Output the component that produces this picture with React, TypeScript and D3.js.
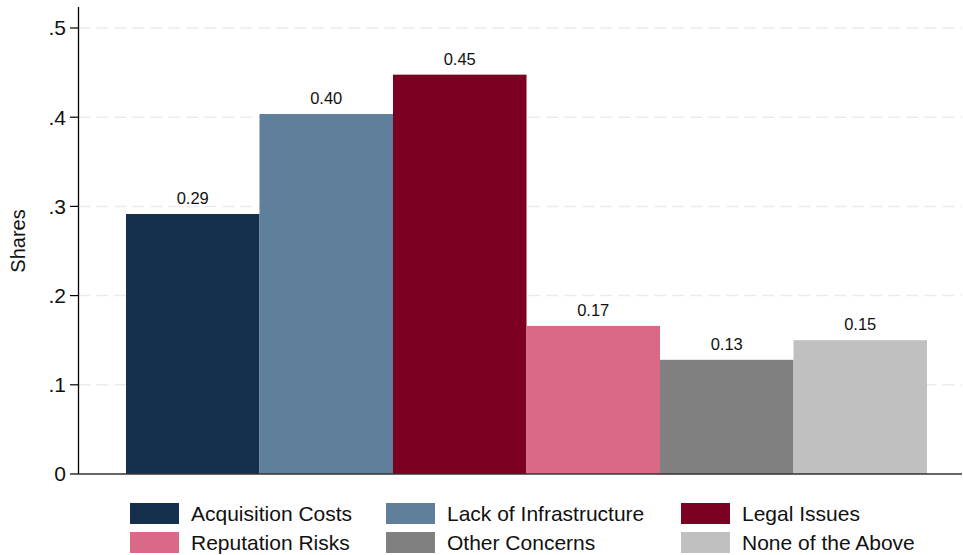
import React from "react";
import * as d3 from "d3";

const categories = ["Acquisition Costs", "Lack of Infrastructure", "Legal Issues", "Reputation Risks", "Other Concerns", "None of the Above"];
const values = [0.2915, 0.4036, 0.4477, 0.166, 0.128, 0.150];
const valueLabels = ["0.29", "0.40", "0.45", "0.17", "0.13", "0.15"];
const colors = ["#14304d", "#5f7f9b", "#7c0021", "#d96a87", "#808080", "#c0c0c0"];
const yTicks = [0, 0.1, 0.2, 0.3, 0.4, 0.5];
const yTickLabels = ["0", ".1", ".2", ".3", ".4", ".5"];

const W = 963, H = 555;
const axisX = 78.5;
const plotRight = 962;
const font = "Arial, 'Liberation Sans', sans-serif";

export default function App() {
  const y = d3.scaleLinear().domain([0, 0.5]).range([474, 28]);
  const x = d3.scaleBand<string>().domain(categories).range([126, 927]).padding(0);
  const legendCols = [130, 386, 681];
  const legendRows = [503, 532];
  return (
    <svg width={W} height={H} style={{ position: "absolute", left: 0, top: 0, background: "#fff" }} fontFamily={font}>
      {yTicks.filter(t => t > 0).map(t => (
        <line key={"g" + t} x1={axisX} x2={plotRight} y1={y(t)} y2={y(t)} stroke="#ebebeb" strokeWidth={1.5} strokeDasharray="12 6" />
      ))}
      {categories.map((c, i) => (
        <rect key={c} x={x(c)} y={y(values[i])} width={x.bandwidth()} height={y(0) - y(values[i])} fill={colors[i]} />
      ))}
      {categories.map((c, i) => (
        <text key={"l" + c} x={(x(c) as number) + x.bandwidth() / 2} y={y(values[i]) - 10} textAnchor="middle" fontSize={16.5} fill="#111">{valueLabels[i]}</text>
      ))}
      <line x1={axisX} x2={axisX} y1={7} y2={y(0)} stroke="#000" strokeWidth={1.3} />
      <line x1={axisX} x2={plotRight} y1={y(0)} y2={y(0)} stroke="#333" strokeWidth={1.5} />
      {yTicks.map((t, i) => (
        <g key={"t" + t}>
          <line x1={70} x2={axisX} y1={y(t)} y2={y(t)} stroke="#000" strokeWidth={1.2} />
          <text x={66} y={y(t)} dy="0.35em" textAnchor="end" fontSize={21} fill="#111">{yTickLabels[i]}</text>
        </g>
      ))}
      <text transform={`translate(25,${241}) rotate(-90)`} textAnchor="middle" fontSize={20} fill="#111">Shares</text>
      {categories.map((c, i) => {
        const cx = legendCols[i % 3];
        const cy = legendRows[Math.floor(i / 3)];
        return (
          <g key={"lg" + c}>
            <rect x={cx} y={cy} width={49} height={21} fill={colors[i]} />
            <text x={cx + 61} y={cy + 18} fontSize={21} fill="#111">{c}</text>
          </g>
        );
      })}
    </svg>
  );
}
